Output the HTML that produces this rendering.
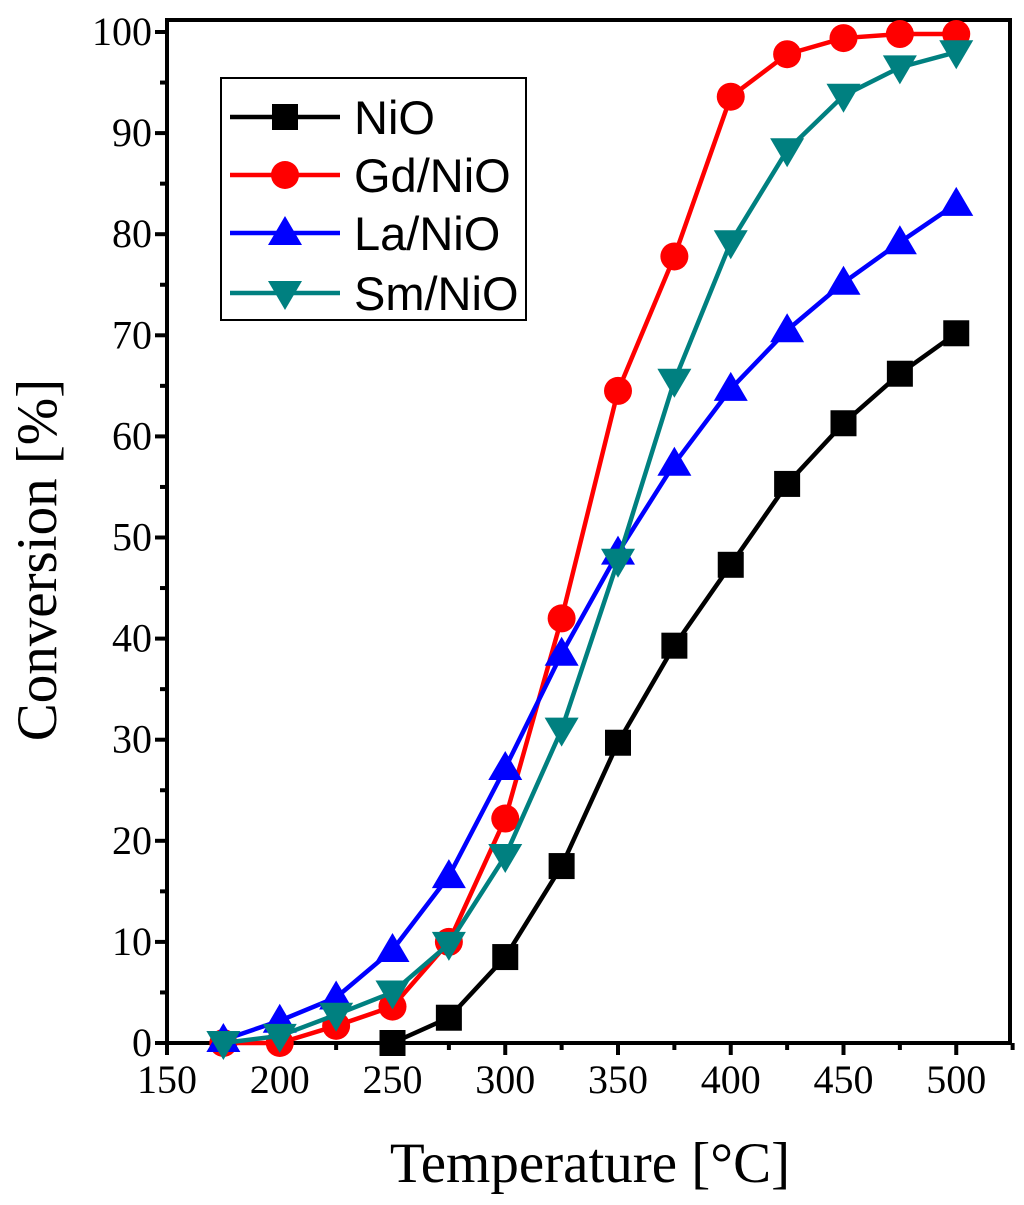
<!DOCTYPE html>
<html><head><meta charset="utf-8"><style>
html,body{margin:0;padding:0;background:#fff;}
svg{display:block;}
</style></head><body>
<svg id="chart" width="1024" height="1205" xmlns="http://www.w3.org/2000/svg">
<g id="axes"></g>
<g id="series"></g>
<g id="legend"></g>
<text x="590" y="1182" font-family="Liberation Serif, serif" font-size="57" text-anchor="middle">Temperature [°C]</text>
<text transform="translate(56,560) rotate(-90)" font-family="Liberation Serif, serif" font-size="57" text-anchor="middle">Conversion [%]</text>
</svg>
<script>
const xTicks=[150,200,250,300,350,400,450,500];
const yTicks=[0,10,20,30,40,50,60,70,80,90,100];
const tempsNiO=[250,275,300,325,350,375,400,425,450,475,500];
const valsNiO=[0,2.5,8.5,17.5,29.7,39.3,47.3,55.3,61.3,66.2,70.2];
const temps=[175,200,225,250,275,300,325,350,375,400,425,450,475,500];
const valsGd=[0,0,1.7,3.6,10,22.2,42,64.5,77.8,93.6,97.8,99.4,99.8,99.8];
const valsLa=[0.3,2.2,4.5,9.2,16.5,27.2,38.5,48.5,57.3,64.7,70.5,75.2,79.2,83];
const valsSm=[0,0.7,2.8,5,9.8,18.5,31,47.7,65.5,79.2,88.3,93.7,96.5,98];
const seriesNames=['NiO','Gd/NiO','La/NiO','Sm/NiO'];

const NS='http://www.w3.org/2000/svg';
const X0=167,X1=1010,Y0=1043,Y1=20;
const xs=v=>X0+(v-150)*2.255;
const ys=v=>Y0-v*10.11;
function mk(tag,attrs,parent){const e=document.createElementNS(NS,tag);for(const k in attrs)e.setAttribute(k,attrs[k]);parent.appendChild(e);return e;}
const axes=document.getElementById('axes');
let fr=mk('rect',{x:X0,y:Y1,width:X1-X0,height:Y0-Y1,fill:'none',stroke:'#000','stroke-width':4},axes);


xTicks.forEach((t,i)=>{
  let l=mk('line',{x1:xs(t),x2:xs(t),y1:Y0,y2:Y0+12,stroke:'#000','stroke-width':4},axes);
  
  
  let m=mk('line',{x1:xs(t+25),x2:xs(t+25),y1:Y0,y2:Y0+7,stroke:'#000','stroke-width':4},axes);
  
  
  let tx=mk('text',{x:xs(t),y:Y0+50,'font-family':'Liberation Serif, serif','font-size':40,'text-anchor':'middle'},axes);
  tx.textContent=t;
  
  
});
yTicks.forEach(t=>{
  let l=mk('line',{x1:X0-12,x2:X0,y1:ys(t),y2:ys(t),stroke:'#000','stroke-width':4},axes);
  
  
  if(t<100){let m=mk('line',{x1:X0-7,x2:X0,y1:ys(t+5),y2:ys(t+5),stroke:'#000','stroke-width':4},axes);
  
  }
  let tx=mk('text',{x:X0-15,y:ys(t)+13,'font-family':'Liberation Serif, serif','font-size':40,'text-anchor':'end'},axes);
  tx.textContent=t;
  
  
});
function marker(type,cx,cy,color,parent){
  let e;
  if(type==='square')e=mk('rect',{x:cx-13,y:cy-13,width:26,height:26,fill:color},parent);
  else if(type==='circle')e=mk('circle',{cx:cx,cy:cy,r:14,fill:color},parent);
  else if(type==='up')e=mk('polygon',{points:`${cx},${cy-17} ${cx+17},${cy+12} ${cx-17},${cy+12}`,fill:color},parent);
  else e=mk('polygon',{points:`${cx-17},${cy-12} ${cx+17},${cy-12} ${cx},${cy+17}`,fill:color},parent);
  return e;
}
const ser=document.getElementById('series');
const defs=[[tempsNiO,valsNiO,'#000','square','nio'],[temps,valsGd,'#ff0000','circle','gd-nio'],[temps,valsLa,'#0000ff','up','la-nio'],[temps,valsSm,'#008080','down','sm-nio']];
defs.forEach(([tx,vs,c,m,n])=>{
  const g=mk('g',{},ser);
  
  
  const pl=mk('polyline',{points:tx.map((t,i)=>xs(t)+','+ys(vs[i])).join(' '),fill:'none',stroke:c,'stroke-width':4.5,'stroke-linejoin':'round'},g);
  
  
  tx.forEach((t,i)=>{const e=marker(m,xs(t),ys(vs[i]),c,g);
    
    });
});
const lg=document.getElementById('legend');
let lb=mk('rect',{x:221,y:78,width:305,height:242,fill:'#fff',stroke:'#000','stroke-width':2},lg);


const rowsY=[117,175,233,293];
defs.forEach(([tx,vs,c,m,n],i)=>{
  const g=mk('g',{},lg);
  
  
  mk('line',{x1:230,x2:340,y1:rowsY[i],y2:rowsY[i],stroke:c,'stroke-width':4.5},g);
  marker(m,285,rowsY[i],c,g);
  const t=mk('text',{x:354,y:rowsY[i]+17,'font-family':'Liberation Sans, sans-serif','font-size':47},g);
  t.textContent=seriesNames[i];
});
</script>
</body></html>
